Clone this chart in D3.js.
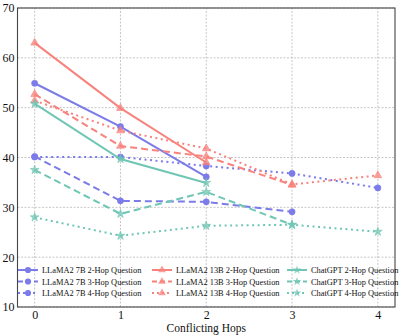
<!DOCTYPE html>
<html>
<head>
<meta charset="utf-8">
<script src="https://cdn.jsdelivr.net/npm/d3@7"></script>
<style>
    body { margin: 0; background: #fff; }
    text { font-family: "Liberation Serif", "DejaVu Serif", serif; fill: #111; }
</style>
</head>
<body>
<div id="chart"></div>
<script>
// conflicting hops on x axis
var hops = [0, 1, 2, 3, 4];
var yTicks = [10, 20, 30, 40, 50, 60, 70];

// values, one array per line
var llama7b2 = [54.9, 46.2, 36.1];
var llama7b3 = [40.2, 31.3, 31.1, 29.1];
var llama7b4 = [40.1, 40.1, 38.3, 36.8, 33.9];
var llama13b2 = [63.0, 49.9, 39.0];
var llama13b3 = [52.7, 42.3, 40.2, 34.5];
var llama13b4 = [51.4, 45.4, 41.8, 34.6, 36.4];
var gpt2 = [50.8, 39.7, 34.9];
var gpt3 = [37.5, 28.7, 33.1, 26.5];
var gpt4 = [28.0, 24.3, 26.3, 26.5, 25.1];

var seriesNames = [
    "LLaMA2 7B 2-Hop Question", "LLaMA2 7B 3-Hop Question", "LLaMA2 7B 4-Hop Question",
    "LLaMA2 13B 2-Hop Question", "LLaMA2 13B 3-Hop Question", "LLaMA2 13B 4-Hop Question",
    "ChatGPT 2-Hop Question", "ChatGPT 3-Hop Question", "ChatGPT 4-Hop Question"
];
var seriesValues = [llama7b2, llama7b3, llama7b4, llama13b2, llama13b3, llama13b4, gpt2, gpt3, gpt4];

var blue = "#7b7bea", red = "#f8827c", teal = "#6fc6b4";
var styles = [
    {color: blue, dash: null, marker: "circle"},
    {color: blue, dash: "7,4", marker: "circle"},
    {color: blue, dash: "2,3.5", marker: "circle"},
    {color: red, dash: null, marker: "triangle"},
    {color: red, dash: "7,4", marker: "triangle"},
    {color: red, dash: "2,3.5", marker: "triangle"},
    {color: teal, dash: null, marker: "star"},
    {color: teal, dash: "7,4", marker: "star"},
    {color: teal, dash: "2,3.5", marker: "star"}
];

var width = 401, height = 336;
var margin = {top: 8, right: 6, bottom: 29, left: 17.5};

var svg = d3.select("#chart").append("svg")
    .attr("width", width)
    .attr("height", height);

var x = d3.scaleLinear().domain([-0.2, 4.2]).range([margin.left, width - margin.right]);
var y = d3.scaleLinear().domain([10, 70]).range([height - margin.bottom, margin.top]);

// grid
svg.append("g").selectAll("line.gx")
    .data(hops).enter().append("line")
    .attr("x1", d => x(d)).attr("x2", d => x(d))
    .attr("y1", y(10)).attr("y2", y(70))
    .attr("stroke", "#b8b8b8").attr("stroke-width", 0.8)
    .attr("stroke-dasharray", "2,1.5");
svg.append("g").selectAll("line.gy")
    .data(yTicks).enter().append("line")
    .attr("x1", x(-0.2)).attr("x2", x(4.2))
    .attr("y1", d => y(d)).attr("y2", d => y(d))
    .attr("stroke", "#b8b8b8").attr("stroke-width", 0.8)
    .attr("stroke-dasharray", "2,1.5");

// axes via d3 axis, domain hidden, frame drawn separately
var xAxis = svg.append("g")
    .attr("transform", "translate(0," + y(10) + ")")
    .call(d3.axisBottom(x).tickValues(hops).tickSize(0).tickPadding(3).tickFormat(d3.format("d")));
xAxis.select(".domain").remove();
xAxis.selectAll("text").style("font-size", "12px").style("font-family", "Liberation Serif, serif");

var yAxis = svg.append("g")
    .attr("transform", "translate(" + x(-0.2) + ",0)")
    .call(d3.axisLeft(y).tickValues(yTicks).tickSize(0).tickPadding(3).tickFormat(d3.format("d")));
yAxis.select(".domain").remove();
yAxis.selectAll("text").style("font-size", "12px").style("font-family", "Liberation Serif, serif");

svg.append("rect")
    .attr("x", x(-0.2)).attr("y", y(70))
    .attr("width", x(4.2) - x(-0.2)).attr("height", y(10) - y(70))
    .attr("fill", "none").attr("stroke", "#444").attr("stroke-width", 1.1);

svg.append("text")
    .attr("x", (x(-0.2) + x(4.2)) / 2).attr("y", 331.5)
    .attr("text-anchor", "middle")
    .style("font-size", "11.5px")
    .text("Conflicting Hops");

// marker shapes
var symbols = {
    circle: d3.symbol().type(d3.symbolCircle).size(30),
    triangle: d3.symbol().type(d3.symbolTriangle).size(26),
    star: d3.symbol().type(d3.symbolStar).size(24)
};

var line = d3.line()
    .x((d, i) => x(hops[i]))
    .y(d => y(d));

var plot = svg.append("g");
seriesValues.forEach(function(vals, k) {
    var st = styles[k];
    plot.append("path")
        .datum(vals)
        .attr("d", line)
        .attr("fill", "none")
        .attr("stroke", st.color)
        .attr("stroke-width", 2)
        .attr("stroke-dasharray", st.dash);
    plot.selectAll(null)
        .data(vals).enter().append("path")
        .attr("transform", (d, i) => "translate(" + x(hops[i]) + "," + y(d) + ")")
        .attr("d", symbols[st.marker])
        .attr("fill", st.color)
        .attr("fill-opacity", st.marker === "circle" ? 1 : 0.75)
        .attr("stroke", st.color)
        .attr("stroke-width", 0.6);
});

// legend, 3 columns
var legend = svg.append("g");
var colX = [18, 152, 287];
var rowY = [270, 281.5, 293];
seriesNames.forEach(function(name, k) {
    var st = styles[k];
    var g = legend.append("g")
        .attr("transform", "translate(" + colX[Math.floor(k / 3)] + "," + rowY[k % 3] + ")");
    g.append("line")
        .attr("x1", 0).attr("x2", 20).attr("y1", 0).attr("y2", 0)
        .attr("stroke", st.color).attr("stroke-width", 2)
        .attr("stroke-dasharray", st.dash === null ? null : (st.dash === "7,4" ? "5,3" : "2,3"));
    g.append("path")
        .attr("transform", "translate(10,0)")
        .attr("d", symbols[st.marker])
        .attr("fill", st.color)
        .attr("fill-opacity", st.marker === "circle" ? 1 : 0.75);
    g.append("text")
        .attr("x", 24).attr("y", 3)
        .style("font-size", "8.4px")
        .text(name);
});
</script>
</body>
</html>
